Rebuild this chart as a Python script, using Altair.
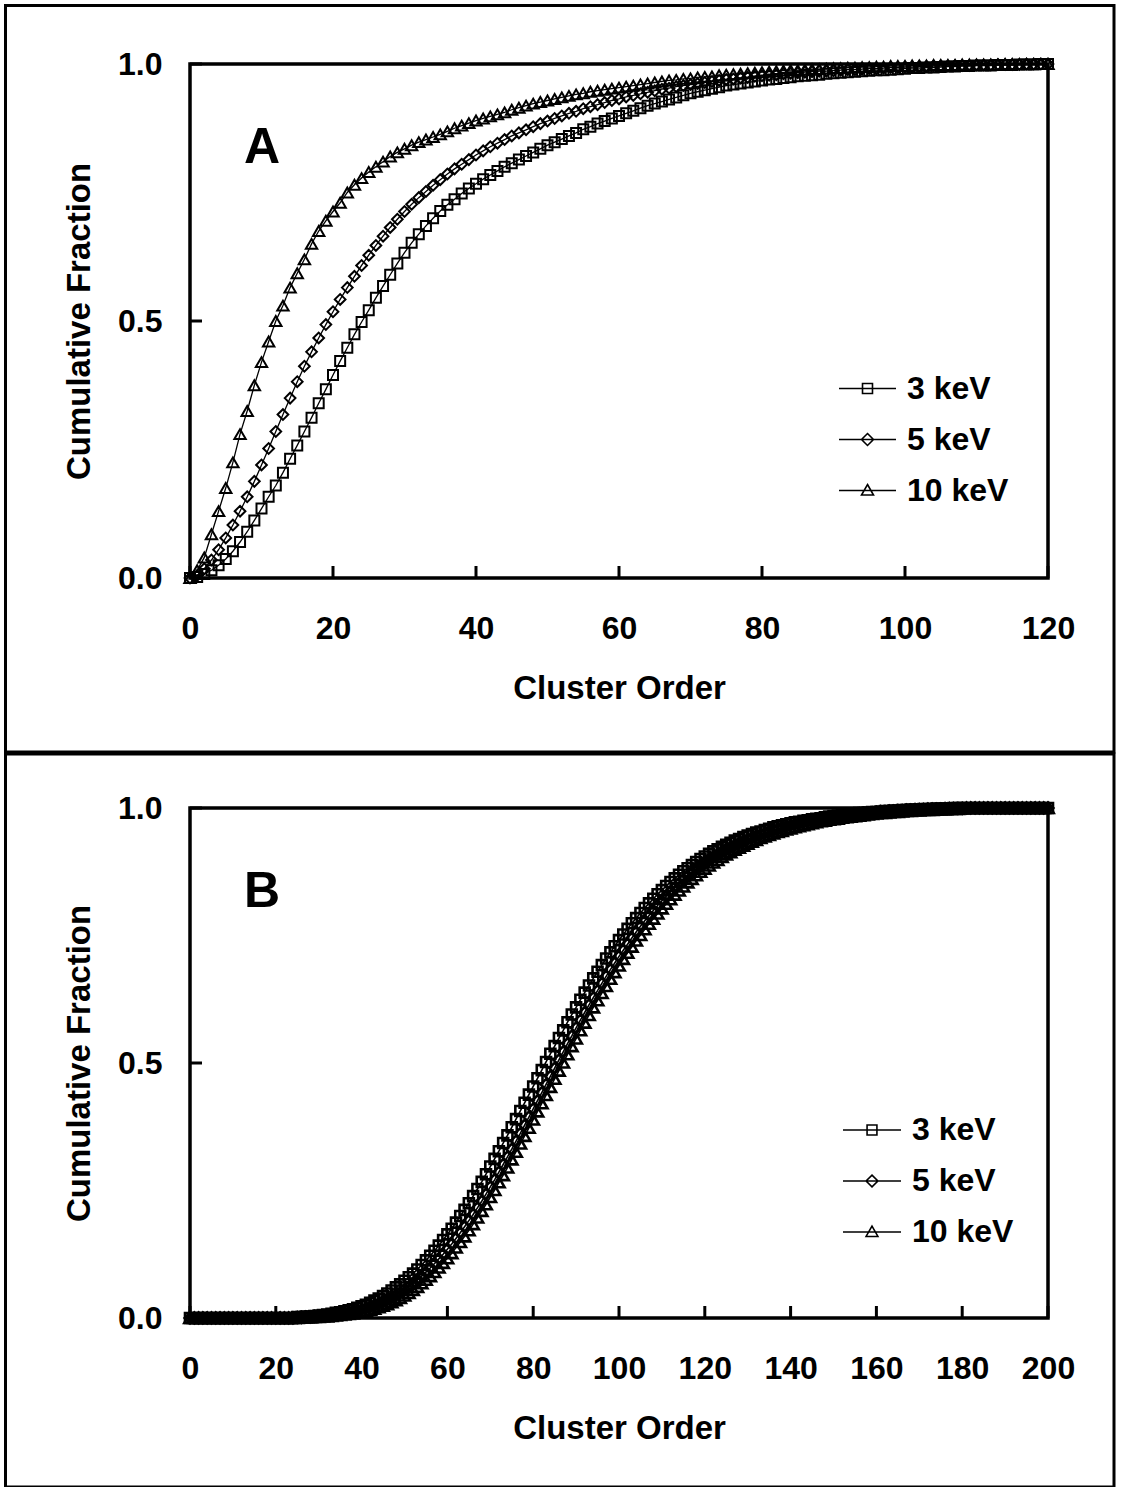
import altair as alt
import pandas as pd

FONT = "Liberation Sans"

SERIES = ["3 keV", "5 keV", "10 keV"]
SHAPES = ["square", "diamond", "triangle-up"]
MARKER_SIZES = [100, 130, 144]

# ---------------- Panel A data (cluster order 0..120) ----------------
A_ORDER = list(range(0, 121))
A_3KEV = [
    0.0, 0.002, 0.008, 0.015, 0.025, 0.037, 0.052, 0.07, 0.09, 0.112,
    0.135, 0.158, 0.18, 0.205, 0.232, 0.258, 0.285, 0.312, 0.34, 0.367,
    0.395, 0.422, 0.448, 0.474, 0.498, 0.521, 0.545, 0.568, 0.59, 0.612,
    0.633, 0.652, 0.669, 0.685, 0.7, 0.714, 0.726, 0.737, 0.748, 0.758,
    0.767, 0.776, 0.784, 0.792, 0.8, 0.807, 0.814, 0.821, 0.828, 0.835,
    0.842, 0.848, 0.854, 0.86, 0.866, 0.873, 0.878, 0.884, 0.889, 0.894,
    0.899, 0.904, 0.909, 0.914, 0.919, 0.923, 0.927, 0.931, 0.935, 0.939,
    0.943, 0.946, 0.949, 0.952, 0.955, 0.958, 0.96, 0.962, 0.964, 0.966,
    0.968, 0.97, 0.971, 0.973, 0.974, 0.976, 0.977, 0.978, 0.979, 0.981,
    0.982, 0.983, 0.984, 0.985, 0.986, 0.987, 0.988, 0.988, 0.989, 0.99,
    0.991, 0.992, 0.992, 0.993, 0.993, 0.994, 0.995, 0.995, 0.996, 0.996,
    0.997, 0.997, 0.997, 0.998, 0.998, 0.998, 0.999, 0.999, 0.999, 1.0,
    1.0,
]
A_5KEV = [
    0.0, 0.005, 0.018, 0.035, 0.055, 0.078, 0.103, 0.13, 0.158, 0.188,
    0.22, 0.252, 0.285, 0.318, 0.35, 0.382, 0.412, 0.44, 0.467, 0.493,
    0.518, 0.542, 0.565, 0.587, 0.608, 0.628, 0.647, 0.665, 0.682, 0.698,
    0.713, 0.727, 0.74, 0.752, 0.764, 0.775, 0.786, 0.796, 0.805, 0.814,
    0.823, 0.831, 0.839, 0.846, 0.853, 0.86, 0.866, 0.872, 0.878, 0.884,
    0.889, 0.894, 0.899, 0.904, 0.908, 0.913, 0.917, 0.921, 0.925, 0.929,
    0.932, 0.936, 0.939, 0.942, 0.945, 0.948, 0.951, 0.953, 0.956, 0.958,
    0.96, 0.962, 0.964, 0.966, 0.968, 0.97, 0.971, 0.973, 0.974, 0.976,
    0.977, 0.978, 0.979, 0.981, 0.982, 0.983, 0.984, 0.985, 0.986, 0.986,
    0.987, 0.988, 0.989, 0.989, 0.99, 0.991, 0.991, 0.992, 0.993, 0.993,
    0.994, 0.994, 0.995, 0.995, 0.996, 0.996, 0.996, 0.997, 0.997, 0.997,
    0.998, 0.998, 0.998, 0.999, 0.999, 0.999, 0.999, 1.0, 1.0, 1.0,
    1.0,
]
A_10KEV = [
    0.0, 0.015, 0.04, 0.085, 0.13, 0.175, 0.225, 0.28, 0.325, 0.375,
    0.42, 0.46, 0.5, 0.53, 0.565, 0.593, 0.62, 0.65, 0.675, 0.695,
    0.713, 0.73, 0.75, 0.765, 0.778, 0.79, 0.8, 0.81, 0.82, 0.828,
    0.835, 0.842, 0.848, 0.853, 0.858, 0.863, 0.869, 0.875, 0.88, 0.885,
    0.89, 0.894, 0.898, 0.902, 0.906, 0.911, 0.915, 0.919, 0.923, 0.926,
    0.929, 0.932, 0.935, 0.938, 0.941, 0.943, 0.946, 0.948, 0.95, 0.952,
    0.954, 0.956, 0.958, 0.96, 0.962, 0.964, 0.966, 0.968, 0.969, 0.971,
    0.972, 0.974, 0.975, 0.976, 0.978, 0.979, 0.98, 0.981, 0.982, 0.983,
    0.984, 0.985, 0.986, 0.987, 0.988, 0.988, 0.989, 0.99, 0.99, 0.991,
    0.992, 0.992, 0.993, 0.993, 0.994, 0.994, 0.995, 0.995, 0.996, 0.996,
    0.996, 0.997, 0.997, 0.997, 0.998, 0.998, 0.998, 0.998, 0.999, 0.999,
    0.999, 0.999, 0.999, 0.999, 1.0, 1.0, 1.0, 1.0, 1.0, 1.0,
    1.0,
]

# ---------------- Panel B data (cluster order 0..200) ----------------
B_ORDER = list(range(0, 201))
B_3KEV = [0.0] * 25 + [
    0.002, 0.002, 0.003, 0.003, 0.004, 0.005, 0.006, 0.007, 0.008, 0.01,
    0.011, 0.013, 0.015, 0.017, 0.02, 0.023, 0.026, 0.03, 0.034, 0.038,
    0.043, 0.048, 0.054, 0.06, 0.066, 0.073, 0.08, 0.087, 0.095, 0.104,
    0.113, 0.122, 0.132, 0.142, 0.153, 0.164, 0.175, 0.187, 0.2, 0.212,
    0.225, 0.239, 0.253, 0.267, 0.282, 0.297, 0.312, 0.327, 0.343, 0.358,
    0.374, 0.39, 0.406, 0.422, 0.438, 0.454, 0.47, 0.486, 0.502, 0.518,
    0.533, 0.549, 0.564, 0.58, 0.595, 0.609, 0.624, 0.638, 0.652, 0.666,
    0.679, 0.692, 0.705, 0.717, 0.729, 0.741, 0.752, 0.763, 0.774, 0.784,
    0.794, 0.804, 0.813, 0.822, 0.831, 0.839, 0.847, 0.855, 0.862, 0.869,
    0.876, 0.882, 0.888, 0.894, 0.9, 0.905, 0.91, 0.915, 0.919, 0.924,
    0.928, 0.932, 0.936, 0.939, 0.943, 0.946, 0.949, 0.952, 0.954, 0.957,
    0.959, 0.962, 0.964, 0.966, 0.968, 0.97, 0.972, 0.973, 0.975, 0.976,
    0.978, 0.979, 0.98, 0.982, 0.983, 0.984, 0.985, 0.986, 0.987, 0.988,
    0.989, 0.99, 0.99, 0.991, 0.992, 0.992, 0.993, 0.994, 0.994, 0.995,
    0.995, 0.996, 0.996, 0.997, 0.997, 0.997, 0.998, 0.998, 0.998, 0.999,
    0.999, 0.999, 0.999, 1.0, 1.0, 1.0,
] + [1.0] * 20
B_5KEV = [0.0] * 25 + [
    0.001, 0.001, 0.002, 0.002, 0.003, 0.003, 0.004, 0.005, 0.006, 0.007,
    0.008, 0.01, 0.011, 0.013, 0.015, 0.017, 0.019, 0.022, 0.025, 0.028,
    0.032, 0.036, 0.04, 0.045, 0.05, 0.056, 0.062, 0.068, 0.075, 0.082,
    0.09, 0.098, 0.107, 0.116, 0.125, 0.135, 0.145, 0.156, 0.167, 0.179,
    0.191, 0.203, 0.216, 0.229, 0.243, 0.257, 0.271, 0.286, 0.301, 0.316,
    0.331, 0.347, 0.362, 0.378, 0.394, 0.41, 0.426, 0.442, 0.458, 0.474,
    0.49, 0.506, 0.522, 0.538, 0.553, 0.569, 0.584, 0.599, 0.614, 0.628,
    0.642, 0.656, 0.67, 0.683, 0.696, 0.709, 0.721, 0.733, 0.745, 0.757,
    0.768, 0.779, 0.789, 0.799, 0.809, 0.818, 0.827, 0.836, 0.844, 0.852,
    0.86, 0.867, 0.874, 0.881, 0.887, 0.893, 0.899, 0.904, 0.909, 0.914,
    0.919, 0.923, 0.927, 0.931, 0.935, 0.939, 0.942, 0.945, 0.948, 0.951,
    0.954, 0.957, 0.959, 0.962, 0.964, 0.966, 0.968, 0.97, 0.972, 0.974,
    0.975, 0.977, 0.978, 0.98, 0.981, 0.982, 0.984, 0.985, 0.986, 0.987,
    0.988, 0.989, 0.99, 0.99, 0.991, 0.992, 0.993, 0.993, 0.994, 0.994,
    0.995, 0.995, 0.996, 0.996, 0.997, 0.997, 0.997, 0.998, 0.998, 0.998,
    0.998, 0.999, 0.999, 0.999, 0.999, 0.999,
] + [1.0] * 20
B_10KEV = [0.0] * 25 + [
    0.0, 0.001, 0.001, 0.001, 0.002, 0.002, 0.003, 0.003, 0.004, 0.005,
    0.006, 0.007, 0.008, 0.009, 0.011, 0.012, 0.014, 0.016, 0.018, 0.021,
    0.024, 0.027, 0.031, 0.035, 0.039, 0.044, 0.049, 0.055, 0.061, 0.068,
    0.075, 0.082, 0.09, 0.099, 0.108, 0.117, 0.127, 0.138, 0.149, 0.16,
    0.172, 0.184, 0.197, 0.21, 0.223, 0.237, 0.251, 0.266, 0.28, 0.295,
    0.311, 0.326, 0.342, 0.357, 0.373, 0.389, 0.405, 0.421, 0.437, 0.453,
    0.469, 0.485, 0.501, 0.517, 0.533, 0.548, 0.564, 0.579, 0.594, 0.609,
    0.623, 0.637, 0.651, 0.665, 0.678, 0.691, 0.704, 0.716, 0.728, 0.74,
    0.751, 0.762, 0.773, 0.783, 0.793, 0.803, 0.812, 0.821, 0.83, 0.838,
    0.846, 0.854, 0.861, 0.868, 0.875, 0.881, 0.887, 0.893, 0.898, 0.904,
    0.909, 0.913, 0.918, 0.922, 0.926, 0.93, 0.934, 0.937, 0.941, 0.944,
    0.947, 0.95, 0.953, 0.955, 0.958, 0.96, 0.962, 0.964, 0.966, 0.968,
    0.97, 0.972, 0.974, 0.975, 0.977, 0.978, 0.979, 0.981, 0.982, 0.983,
    0.984, 0.985, 0.986, 0.987, 0.988, 0.989, 0.99, 0.99, 0.991, 0.992,
    0.992, 0.993, 0.994, 0.994, 0.995, 0.995, 0.996, 0.996, 0.996, 0.997,
    0.997, 0.997, 0.998, 0.998, 0.998, 0.999,
] + [1.0] * 20

A_XTICKS = [0, 20, 40, 60, 80, 100, 120]
B_XTICKS = [0, 20, 40, 60, 80, 100, 120, 140, 160, 180, 200]
Y_TICKS = [0.0, 0.5, 1.0]


def long_df(order, cols):
    rows = []
    for name, vals in zip(SERIES, cols):
        for o, v in zip(order, vals):
            rows.append({"order": o, "frac": v, "series": name})
    return pd.DataFrame(rows)


def legend_paths(h):
    sq = f"M-1,0H1M{-h},{-h}H{h}V{h}H{-h}Z"
    d = 1.2 * h
    dia = f"M-1,0H1M0,{-d}L{d},0L0,{d}L{-d},0Z"
    tri = f"M-1,0H1M0,{-d}L{d},{0.9 * h}L{-d},{0.9 * h}Z"
    return [sq, dia, tri]


def panel(df, xmax, xticks, W, H, letter, leg_x, leg_y, leg_size, leg_h, leg_pad,
          frame, mk_sw, ln_sw):
    xs = alt.Scale(domain=[0, xmax], nice=False, zero=True)
    ys = alt.Scale(domain=[0, 1], nice=False)
    xaxis = alt.Axis(values=xticks, format="d", title="Cluster Order",
                     labelFlush=False, ticks=False, domain=False, grid=False,
                     labelPadding=35, titlePadding=28)
    yaxis = alt.Axis(values=Y_TICKS, format=".1f", title="Cumulative Fraction",
                     ticks=False, domain=False, grid=False,
                     labelPadding=28, titlePadding=21)
    base = alt.Chart(df)
    xenc = alt.X("order:Q", scale=xs, axis=xaxis)
    yenc = alt.Y("frac:Q", scale=ys, axis=yaxis)
    lines = base.mark_line(color="black", strokeWidth=ln_sw).encode(
        x=xenc, y=yenc, detail="series:N"
    )
    points = base.mark_point(filled=False, color="black", strokeWidth=mk_sw, opacity=1).encode(
        x=xenc, y=yenc,
        shape=alt.Shape("series:N", scale=alt.Scale(domain=SERIES, range=SHAPES), legend=None),
        size=alt.Size("series:N", scale=alt.Scale(domain=SERIES, range=MARKER_SIZES), legend=None),
    )
    leg = base.transform_filter(alt.datum.order == 0).mark_point(
        filled=False, color="black", strokeWidth=1.6, size=leg_size, clip=True, opacity=1
    ).encode(
        x=xenc, y=yenc,
        shape=alt.Shape(
            "series:N",
            scale=alt.Scale(domain=SERIES, range=legend_paths(leg_h)),
            legend=alt.Legend(
                title=None, orient="none", legendX=leg_x, legendY=leg_y,
                labelFont=FONT, labelFontSize=32, labelFontWeight="bold",
                labelColor="black", labelOffset=10, rowPadding=leg_pad,
                symbolSize=leg_size, symbolStrokeWidth=1.6,
                symbolStrokeColor="black", symbolFillColor="transparent",
            ),
        ),
    )
    xt = alt.Chart(pd.DataFrame({"order": xticks})).mark_rule(color="black", strokeWidth=3).encode(
        x=xenc, y=alt.value(H), y2=alt.value(H - 12)
    )
    yt = alt.Chart(pd.DataFrame({"frac": Y_TICKS})).mark_rule(color="black", strokeWidth=3).encode(
        y=yenc, x=alt.value(0), x2=alt.value(12)
    )
    one = pd.DataFrame({"k": [0]})
    fx1, fx2, fy1, fy2 = frame
    box = alt.Chart(one).mark_rect(fillOpacity=0, stroke="black", strokeWidth=3).encode(
        x=alt.value(fx1), x2=alt.value(fx2), y=alt.value(fy1), y2=alt.value(fy2)
    )
    label = alt.Chart(one).mark_text(
        text=letter, font=FONT, fontSize=50, fontWeight="bold", color="black",
        align="center", baseline="middle",
    ).encode(x=alt.value(72), y=alt.value(84))
    return alt.layer(lines, points, leg, xt, yt, box, label).resolve_scale(
        shape="independent", size="independent"
    ).properties(width=W, height=H)


dfA = long_df(A_ORDER, [A_3KEV, A_5KEV, A_10KEV])
dfB = long_df(B_ORDER, [B_3KEV, B_5KEV, B_10KEV])

pA = panel(dfA, 120, A_XTICKS, 858, 514, "A", 648, 295, 3249, 0.175, 5,
           (-184.5, 924, -58.5, 688), 2.0, 1.3)
pB = panel(dfB, 200, B_XTICKS, 858, 510, "B", 652, 292, 3364, 0.17, 5,
           (-184.5, 924, -54, 679), 2.6, 1.6)

chart = alt.vconcat(pA, pB, spacing=-6).properties(
    padding={"left": 2, "top": 2, "right": 0, "bottom": 0},
    background="white",
).configure_view(stroke="black", strokeWidth=3.5).configure_axis(
    labelFont=FONT, labelFontSize=32, labelFontWeight="bold", labelColor="black",
    titleFont=FONT, titleFontSize=33, titleFontWeight="bold", titleColor="black",
)

chart.save("out.html", embed_options={"renderer": "svg", "actions": False})
